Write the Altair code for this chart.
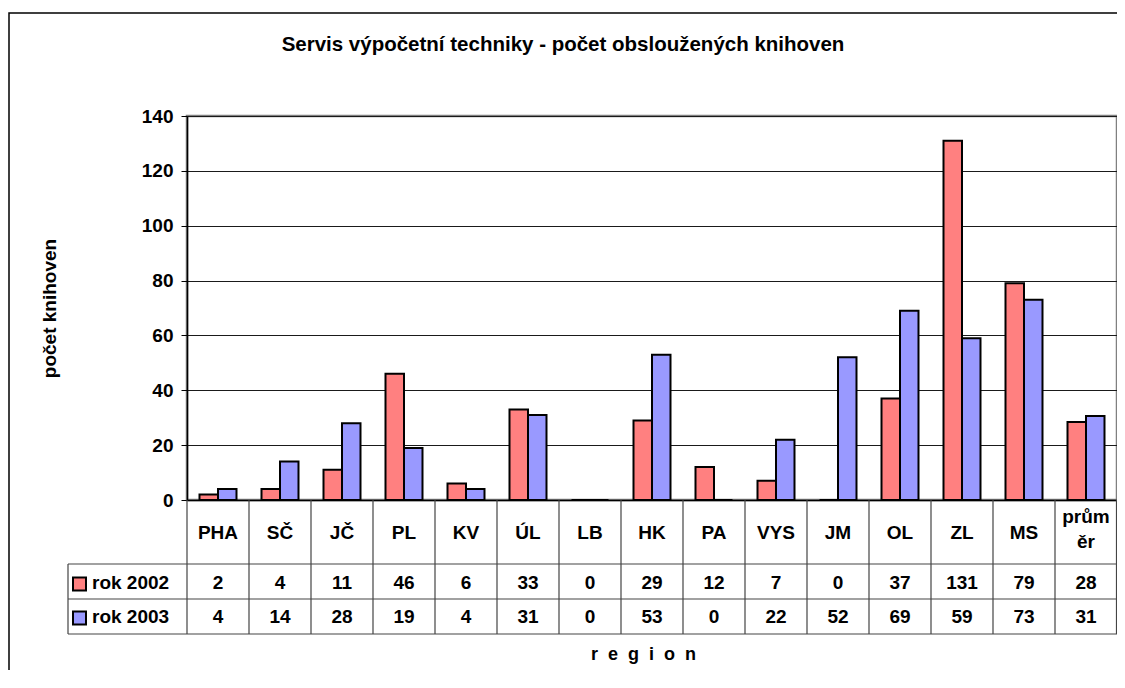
import altair as alt
import pandas as pd

# ---- data ----
regions = ["PHA", "SČ", "JČ", "PL", "KV", "ÚL", "LB", "HK", "PA", "VYS", "JM", "OL", "ZL", "MS", "průměr"]
region_labels = ["PHA", "SČ", "JČ", "PL", "KV", "ÚL", "LB", "HK", "PA", "VYS", "JM", "OL", "ZL", "MS", "prům\něr"]
years = ["rok 2002", "rok 2003"]
values_2002 = [2, 4, 11, 46, 6, 33, 0, 29, 12, 7, 0, 37, 131, 79, 28.4]
values_2003 = [4, 14, 28, 19, 4, 31, 0, 53, 0, 22, 52, 69, 59, 73, 30.6]
colors = ["#FF8080", "#9999FF"]
y_ticks = [0, 20, 40, 60, 80, 100, 120, 140]

title_text = "Servis výpočetní techniky - počet obsloužených knihoven"
y_title = "počet knihoven"
x_title = "\u00a0\u00a0".join(list("region"))

FONT = "Liberation Sans"
FS = 19
W, H = 930, 384

rows = []
for r, a, b in zip(regions, values_2002, values_2003):
    rows.append({"region": r, "year": years[0], "value": a})
    rows.append({"region": r, "year": years[1], "value": b})
df = pd.DataFrame(rows)
cats = pd.DataFrame({"region": regions, "label": region_labels})
one = pd.DataFrame({"k": [0]})
leg = pd.DataFrame({"year": years})

xscale = alt.Scale(domain=regions, paddingInner=0, paddingOuter=0)
color_scale = alt.Scale(domain=years, range=colors)

# outer chart border
border = alt.Chart(one).mark_rect(fill="white", fillOpacity=0, stroke="#000000", strokeWidth=1.5).encode(
    x=alt.value(-178), x2=alt.value(945), y=alt.value(-103), y2=alt.value(620)
)

bars = alt.Chart(df).mark_bar(stroke="#000000", strokeWidth=2).encode(
    x=alt.X("region:N", scale=xscale, sort=regions,
            axis=alt.Axis(labels=False, ticks=False, domain=True, domainColor="#000000", domainWidth=1.5,
                          title=x_title, titleX=456, titleY=154, titleAlign="center", titleBaseline="middle",
                          titleFont=FONT, titleFontSize=FS - 1, titleFontWeight="bold", grid=False)),
    xOffset=alt.XOffset("year:N", sort=years, scale=alt.Scale(domain=years, paddingOuter=0.676, paddingInner=0)),
    y=alt.Y("value:Q", scale=alt.Scale(domain=[0, 140], nice=False),
            axis=alt.Axis(values=y_ticks, grid=True, gridColor="#1a1a1a", gridWidth=1,
                          domain=True, domainColor="#000000", domainWidth=1.5,
                          ticks=True, tickSize=6, tickColor="#000000", tickWidth=1,
                          labelFont=FONT, labelFontSize=FS, labelFontWeight="bold", labelColor="#000000",
                          labelPadding=8,
                          title=y_title, titleX=-138, titleY=192, titleAngle=270, titleAlign="center",
                          titleBaseline="middle", titleFont=FONT, titleFontSize=FS, titleFontWeight="bold",
                          titleColor="#000000")),
    color=alt.Color("year:N", scale=color_scale, legend=None),
)

line_color = "#444444"
# vertical table separators at category boundaries
vlines = alt.Chart(cats).mark_rule(color=line_color, strokeWidth=1.2).encode(
    x=alt.X("region:N", scale=xscale, sort=regions, bandPosition=0),
    y=alt.value(384), y2=alt.value(518)
)
vright = alt.Chart(one).mark_rule(color=line_color, strokeWidth=1.2).encode(
    x=alt.value(929.5), y=alt.value(384), y2=alt.value(518)
)
vleft = alt.Chart(one).mark_rule(color=line_color, strokeWidth=1.2).encode(
    x=alt.value(-119), y=alt.value(448), y2=alt.value(518)
)
h1 = alt.Chart(one).mark_rule(color=line_color, strokeWidth=1.2).encode(
    x=alt.value(-119), x2=alt.value(930), y=alt.value(448)
)
h2 = alt.Chart(one).mark_rule(color=line_color, strokeWidth=1.2).encode(
    x=alt.value(-119), x2=alt.value(930), y=alt.value(483)
)
h3 = alt.Chart(one).mark_rule(color=line_color, strokeWidth=1.2).encode(
    x=alt.value(-119), x2=alt.value(930), y=alt.value(518)
)

def cat_layer(multi, ypix):
    cond = "indexof(datum.label, '\\n') >= 0" if multi else "indexof(datum.label, '\\n') < 0"
    return alt.Chart(cats).transform_filter(cond).mark_text(
        font=FONT, fontSize=FS, fontWeight="bold", color="#000000",
        baseline="middle", align="center", lineBreak="\n", lineHeight=25
    ).encode(
        x=alt.X("region:N", scale=xscale, sort=regions), y=alt.value(ypix), text="label:N"
    )

cat_single = cat_layer(False, 417)
cat_multi = cat_layer(True, 401)

def row_text(year, ypix):
    return alt.Chart(df).transform_filter(alt.datum.year == year).mark_text(
        font=FONT, fontSize=FS, fontWeight="bold", color="#000000", baseline="middle", align="center"
    ).encode(
        x=alt.X("region:N", scale=xscale, sort=regions), y=alt.value(ypix),
        text=alt.Text("value:Q", format=".0f")
    )

t2002 = row_text(years[0], 467)
t2003 = row_text(years[1], 501)

def swatch(year, ypix):
    return alt.Chart(leg).transform_filter(alt.datum.year == year).mark_rect(
        stroke="#000000", strokeWidth=2
    ).encode(
        x=alt.value(-114), x2=alt.value(-101), y=alt.value(ypix - 6.5), y2=alt.value(ypix + 6.5),
        color=alt.Color("year:N", scale=color_scale, legend=None)
    )

def leg_text(year, ypix):
    return alt.Chart(leg).transform_filter(alt.datum.year == year).mark_text(
        font=FONT, fontSize=FS, fontWeight="bold", color="#000000", baseline="middle", align="left"
    ).encode(x=alt.value(-95), y=alt.value(ypix), text="year:N")

title = alt.Chart(one).mark_text(text=title_text, font=FONT, fontSize=20.5, fontWeight="bold",
                                 color="#000000", baseline="middle", align="center").encode(
    x=alt.value(376), y=alt.value(-71)
)

chart = alt.layer(
    border, bars, vlines, vright, vleft, h1, h2, h3, cat_single, cat_multi, t2002, t2003,
    swatch(years[0], 468), swatch(years[1], 502), leg_text(years[0], 467), leg_text(years[1], 501), title
).properties(
    width=W, height=H,
    autosize=alt.AutoSizeParams(type="none"),
    padding={"left": 179, "top": 108, "right": 0, "bottom": 170},
    background="white",
).configure_view(stroke="#808080", strokeWidth=2.5)

chart.save("out.html", embed_options={"renderer": "svg", "actions": False})
